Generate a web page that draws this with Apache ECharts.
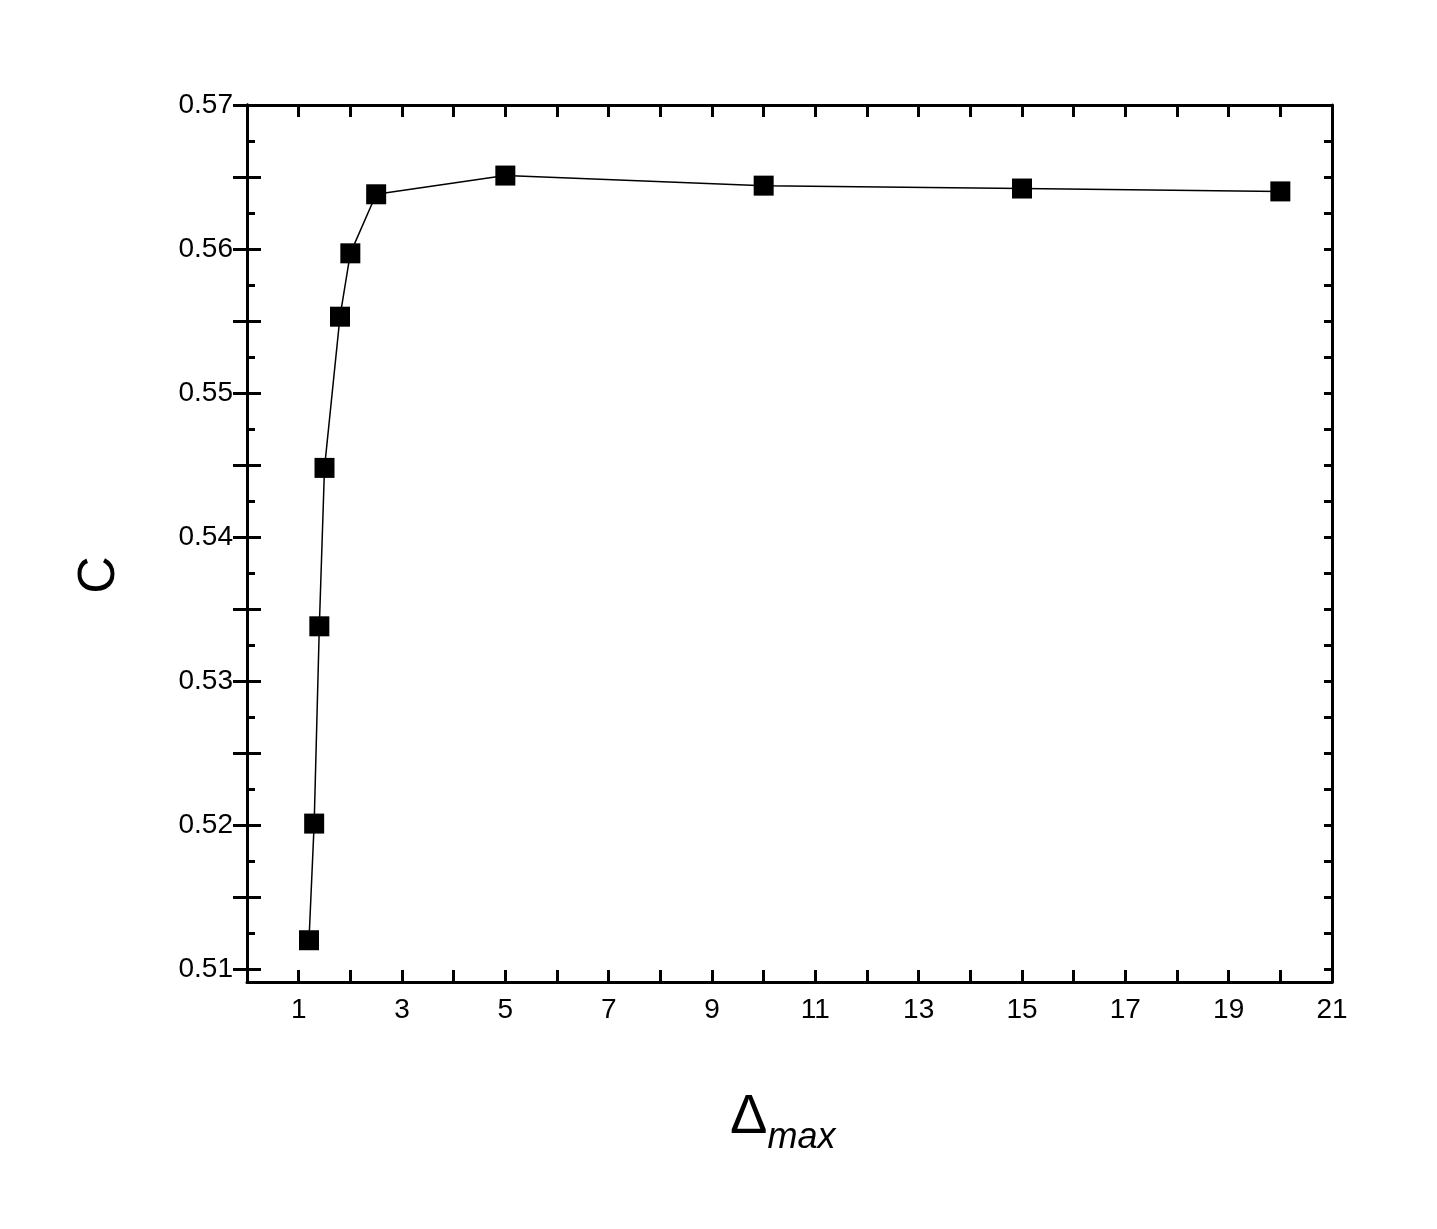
<!DOCTYPE html><html><head><meta charset="utf-8"><script src="https://cdn.jsdelivr.net/npm/echarts@6/dist/echarts.min.js"></script></head><body style="margin:0;background:#fff"><div id="c" style="width:1437px;height:1229px"></div><script>
const xVals=[1.2,1.3,1.4,1.5,1.8,2.0,2.5,5,10,15,20];
const yVals=[0.5120,0.5201,0.5338,0.5448,0.5553,0.5597,0.5638,0.5651,0.5644,0.5642,0.5640];
const xTickLabels=[1,3,5,7,9,11,13,15,17,19,21];
const yTickLabels=[0.51,0.52,0.53,0.54,0.55,0.56,0.57];
const xTicks=[];for(let i=1;i<=21;i++)xTicks.push(i);
const yMinor=[];for(let i=0;i<=24;i++)yMinor.push(+(0.51+i*0.0025).toFixed(4));
const yMajor=[];for(let i=0;i<=12;i++)yMajor.push(+(0.51+i*0.005).toFixed(3));
const font={fontFamily:'Liberation Sans, Arial',color:'#000',fontSize:28};
function xa(show){return{type:'value',min:0,max:21,position:show?'bottom':'top',
 axisLine:{show:true,lineStyle:{color:'#000',width:3}},
 axisTick:{show:true,inside:true,length:12,lineStyle:{color:'#000',width:3},customValues:xTicks},
 axisLabel:{show:show,...font,margin:14,customValues:xTickLabels},splitLine:{show:false}};}
function ya(show,minor){return{type:'value',min:0.5091,max:0.57,position:show?'left':'right',
 axisLine:{show:true,lineStyle:{color:'#000',width:3}},
 axisTick:{show:true,inside:true,length:minor?8:14,lineStyle:{color:'#000',width:3},customValues:minor?yMinor:yMajor},
 axisLabel:{show:show,...font,margin:14,customValues:yTickLabels,formatter:v=>v.toFixed(2)},splitLine:{show:false}};}
const ch=echarts.init(document.getElementById('c'));
ch.setOption({animation:false,
 grid:{left:247,right:105,top:105,bottom:247},
 xAxis:[xa(true),xa(false)],
 yAxis:[ya(true,false),ya(false,false),Object.assign(ya(false,true),{position:'left'}),Object.assign(ya(false,true),{position:'right'})],
 series:[{type:'line',xAxisIndex:0,yAxisIndex:0,data:xVals.map((x,i)=>[x,yVals[i]]),
  symbol:'rect',symbolSize:20,itemStyle:{color:'#000'},lineStyle:{color:'#000',width:1.5}}],
 graphic:[
  {type:'text',x:100,y:575,rotation:Math.PI/2,style:{text:'C',font:'52px Liberation Sans',fill:'#000',align:'center',verticalAlign:'middle'}},
  {type:'text',x:730,y:1080,style:{text:'{d|Δ}{s|max}',rich:{d:{font:'56px Liberation Sans',fill:'#000'},s:{font:'italic 36px Liberation Sans',fill:'#000',padding:[40,0,0,0]}}}}
 ]});
</script></body></html>
